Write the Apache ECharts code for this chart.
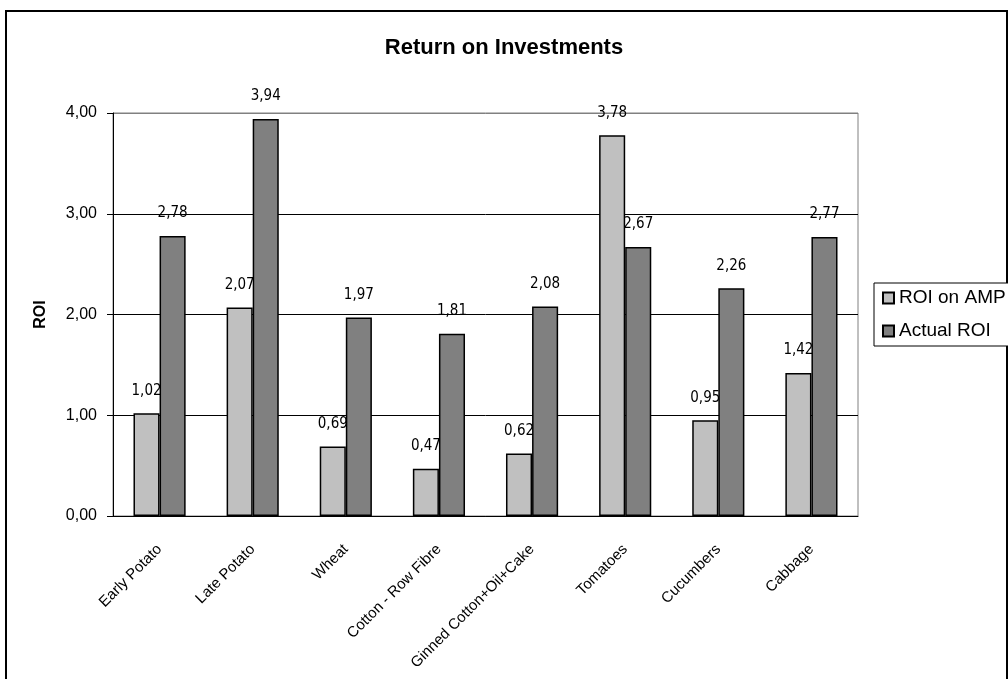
<!DOCTYPE html>
<html>
<head>
<meta charset="utf-8">
<script src="https://cdn.jsdelivr.net/npm/echarts@6/dist/echarts.min.js"></script>
<style>
  html, body { margin: 0; padding: 0; background: #fff; }
  #chart { width: 1008px; height: 679px; }
</style>
</head>
<body>
<div id="chart"></div>
<script>
// Crop return figures
const categories = ['Early Potato', 'Late Potato', 'Wheat', 'Cotton - Row Fibre',
  'Ginned Cotton+Oil+Cake', 'Tomatoes', 'Cucumbers', 'Cabbage'];
const roiOnAmp  = [1.02, 2.07, 0.69, 0.47, 0.62, 3.78, 0.95, 1.42];
const actualRoi = [2.78, 3.94, 1.97, 1.81, 2.08, 2.67, 2.26, 2.77];
const seriesNames = ['ROI on AMP', 'Actual ROI'];
const yTickLabels = ['0,00', '1,00', '2,00', '3,00', '4,00'];

const SANS = '"Liberation Sans", Arial, sans-serif';
const NARROW = '"Liberation Sans Narrow", "Arial Narrow", "DejaVu Sans Condensed", sans-serif';
const fmt = v => v.toFixed(2).replace('.', ',');

const plotRect = { left: 113, top: 113, width: 745, height: 403 };
const barLayout = { barGap: '0%', barCategoryGap: '44%' };

// Bars are drawn on axis 0; their value labels sit on an identical hidden
// axis pair underneath, so neighbouring bars can overlap the labels.
function barSeries(name, data, color) {
  return Object.assign({
    name, type: 'bar', data, z: 3,
    xAxisIndex: 0, yAxisIndex: 0,
    itemStyle: { color, borderColor: '#000', borderWidth: 1.5 }
  }, barLayout);
}
function labelSeries(id, data) {
  return Object.assign({
    id, type: 'bar', data, z: 1, silent: true,
    xAxisIndex: 1, yAxisIndex: 1,
    itemStyle: { color: 'rgba(0,0,0,0)' },
    label: {
      show: true, position: 'top', distance: 15,
      formatter: p => fmt(p.value),
      fontFamily: NARROW, fontSize: 15, color: '#000'
    }
  }, barLayout);
}

const chart = echarts.init(document.getElementById('chart'), null, { renderer: 'canvas' });
chart.setOption({
  animation: false,
  backgroundColor: '#fff',
  graphic: [{
    type: 'rect', silent: true, z: -10,
    shape: { x: 6, y: 11, width: 1001, height: 720 },
    style: { fill: 'none', stroke: '#000', lineWidth: 2 }
  }],
  title: {
    text: 'Return on Investments',
    left: 'center', top: 32,
    textStyle: { fontFamily: SANS, fontWeight: 'bold', fontSize: 22, color: '#000' }
  },
  legend: {
    data: seriesNames,
    orient: 'vertical',
    left: 874, top: 283,
    padding: [5, 30, 5, 8],
    itemWidth: 11, itemHeight: 11, itemGap: 13,
    icon: 'rect',
    backgroundColor: '#fff',
    borderColor: '#000', borderWidth: 1,
    textStyle: { fontFamily: SANS, fontSize: 19, lineHeight: 20, color: '#000' }
  },
  grid: [
    Object.assign({ show: true, borderColor: '#808080', borderWidth: 1, backgroundColor: 'transparent' }, plotRect),
    Object.assign({}, plotRect)
  ],
  xAxis: [{
    type: 'category', data: categories, gridIndex: 0,
    axisLine: { lineStyle: { color: '#000', width: 1 } },
    axisTick: { length: 6, lineStyle: { color: '#000' } },
    axisLabel: { rotate: 45, interval: 0, margin: 31, fontFamily: SANS, fontSize: 15, color: '#000' }
  }, {
    type: 'category', data: categories, gridIndex: 1, show: false
  }],
  yAxis: [{
    type: 'value', gridIndex: 0, min: 0, max: 4, interval: 1,
    name: 'ROI', nameLocation: 'middle', nameGap: 64,
    nameTextStyle: { fontFamily: SANS, fontWeight: 'bold', fontSize: 16, color: '#000' },
    axisLine: { show: true, lineStyle: { color: '#000', width: 1 } },
    axisTick: { show: true, length: 6, lineStyle: { color: '#000' } },
    axisLabel: {
      margin: 16, fontFamily: SANS, fontSize: 16, color: '#000',
      formatter: (v) => yTickLabels[Math.round(v)]
    },
    splitLine: { show: true, lineStyle: { color: ['#000', '#000', '#000', '#000', '#808080'], width: 1 } }
  }, {
    type: 'value', gridIndex: 1, min: 0, max: 4, interval: 1, show: false,
    splitLine: { show: false }
  }],
  series: [
    barSeries(seriesNames[0], roiOnAmp, '#C0C0C0'),
    barSeries(seriesNames[1], actualRoi, '#808080'),
    labelSeries('ampLabels', roiOnAmp),
    labelSeries('actualLabels', actualRoi)
  ]
});
</script>
</body>
</html>
